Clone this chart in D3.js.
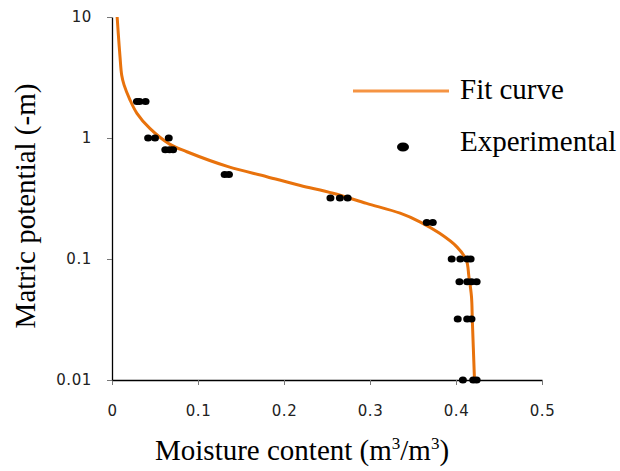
<!DOCTYPE html>
<html>
<head>
<meta charset="utf-8">
<script src="https://cdn.jsdelivr.net/npm/d3@7/dist/d3.min.js"></script>
<style>
  html, body { margin: 0; padding: 0; background: #fff; }
  svg { display: block; }
  .tick text { font-family: "DejaVu Sans", sans-serif; font-size: 15px; fill: #222; letter-spacing: 0.6px; }
  .title { font-family: "Liberation Serif", "Times New Roman", serif; font-size: 29px; fill: #000; }
</style>
</head>
<body>
<svg id="chart" width="620" height="471"></svg>
<script>
// Fitted retention curve: moisture content (m3/m3) vs matric potential (-m)
const fitTheta = [0.006, 0.0073, 0.0093, 0.0113, 0.014, 0.021, 0.029, 0.044, 0.067, 0.087, 0.135, 0.180, 0.219, 0.257, 0.296, 0.335, 0.358, 0.381, 0.401, 0.412, 0.415, 0.418, 0.419, 0.4215];
const fitH     = [10, 7.3, 4.7, 3.3, 2.75, 2.06, 1.6, 1.2, 0.89, 0.77, 0.58, 0.479, 0.405, 0.349, 0.288, 0.239, 0.203, 0.163, 0.126, 0.098, 0.0715, 0.0488, 0.031, 0.01];

// Measured samples
const expTheta = [0.029, 0.032, 0.039,
                  0.042, 0.050, 0.066,
                  0.062, 0.067, 0.071,
                  0.131, 0.136,
                  0.254, 0.265, 0.274,
                  0.366, 0.373,
                  0.395, 0.405, 0.413, 0.417,
                  0.404, 0.413, 0.418, 0.424,
                  0.402, 0.413, 0.418,
                  0.408, 0.420, 0.424];
const expH     = [2, 2, 2,
                  1, 1, 1,
                  0.8, 0.8, 0.8,
                  0.5, 0.5,
                  0.32, 0.32, 0.32,
                  0.2, 0.2,
                  0.1, 0.1, 0.1, 0.1,
                  0.065, 0.065, 0.065, 0.065,
                  0.032, 0.032, 0.032,
                  0.01, 0.01, 0.01];

const xTicks = [0, 0.1, 0.2, 0.3, 0.4, 0.5];
const yTicks = [0.01, 0.1, 1, 10];
const legendLabels = ["Fit curve", "Experimental"];

const curveColor = "#E8720C";
const legendLineColor = "#F59443";

const svg = d3.select("#chart");
const x = d3.scaleLinear().domain([0, 0.5]).range([112, 542]);
const y = d3.scaleLog().domain([0.01, 10]).range([380, 17]);

// X axis
const gx = svg.append("g").attr("transform", `translate(0,${y(0.01)})`)
  .call(d3.axisBottom(x).tickValues(xTicks).tickFormat(d3.format("")).tickSize(5).tickSizeOuter(0).tickPadding(20));
gx.select(".domain").attr("stroke", "#000").attr("stroke-width", 1.3);
gx.selectAll(".tick line").attr("stroke", "#777");

// Y axis
const gy = svg.append("g").attr("transform", `translate(${x(0)},0)`)
  .call(d3.axisLeft(y).tickValues(yTicks).tickFormat(d => String(d)).tickSize(5).tickSizeOuter(0).tickPadding(15));
gy.select(".domain").attr("stroke", "#000").attr("stroke-width", 1.3);
gy.selectAll(".tick line").attr("stroke", "#777");

// Fit curve
const fitData = fitTheta.map((t, i) => [t, fitH[i]]);
svg.append("path")
  .datum(fitData)
  .attr("fill", "none")
  .attr("stroke", curveColor)
  .attr("stroke-width", 3)
  .attr("stroke-linejoin", "round")
  .attr("d", d3.line().x(d => x(d[0])).y(d => y(d[1])).curve(d3.curveCatmullRom.alpha(0.5)));

// Experimental points
const expData = expTheta.map((t, i) => [t, expH[i]]);
svg.append("g").selectAll("ellipse")
  .data(expData)
  .join("ellipse")
  .attr("cx", d => x(d[0]))
  .attr("cy", d => y(d[1]))
  .attr("rx", 4)
  .attr("ry", 3.5)
  .attr("fill", "#000");

// Legend
const lg = svg.append("g");
lg.append("line").attr("x1", 353).attr("x2", 449).attr("y1", 91).attr("y2", 91)
  .attr("stroke", legendLineColor).attr("stroke-width", 3);
lg.append("text").attr("class", "title").attr("x", 460).attr("y", 99).text(legendLabels[0]);
lg.append("ellipse").attr("cx", 403).attr("cy", 147).attr("rx", 6).attr("ry", 4.5).attr("fill", "#000");
lg.append("text").attr("class", "title").attr("x", 460).attr("y", 151).text(legendLabels[1]);

// Axis titles
const xt = svg.append("text").attr("class", "title").attr("x", 155).attr("y", 460);
xt.append("tspan").text("Moisture content (m");
xt.append("tspan").attr("font-size", "17px").attr("dy", -11).text("3");
xt.append("tspan").attr("dy", 11).text("/m");
xt.append("tspan").attr("font-size", "17px").attr("dy", -11).text("3");
xt.append("tspan").attr("dy", 11).text(")");

svg.append("text").attr("class", "title")
  .attr("transform", "translate(35,206) rotate(-90)")
  .attr("text-anchor", "middle")
  .text("Matric potential (-m)");
</script>
</body>
</html>
